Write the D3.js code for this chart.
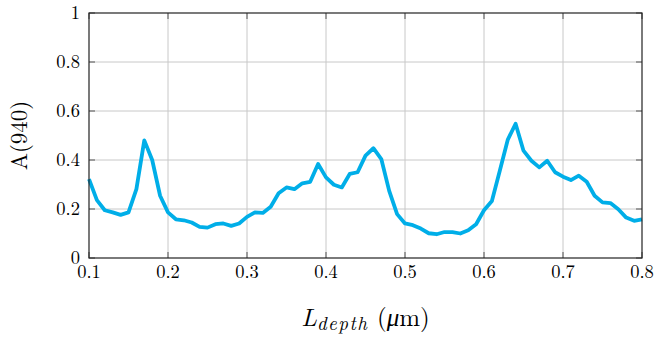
<!DOCTYPE html>
<html>
<head>
<meta charset="utf-8">
<script src="https://cdn.jsdelivr.net/npm/d3@7"></script>
<style>
  html, body { margin: 0; padding: 0; background: #fff; }
  svg { display: block; }
  text { font-family: "Latin Modern Roman", "CMU Serif", "Liberation Serif", "DejaVu Serif", serif; fill: #000; }
</style>
</head>
<body>
<svg id="chart" width="657" height="341"></svg>
<script>
// Depth values (µm), sampled every 0.01 from 0.10 to 0.80
const depth = [
  0.10, 0.11, 0.12, 0.13, 0.14, 0.15, 0.16, 0.17, 0.18, 0.19,
  0.20, 0.21, 0.22, 0.23, 0.24, 0.25, 0.26, 0.27, 0.28, 0.29,
  0.30, 0.31, 0.32, 0.33, 0.34, 0.35, 0.36, 0.37, 0.38, 0.39,
  0.40, 0.41, 0.42, 0.43, 0.44, 0.45, 0.46, 0.47, 0.48, 0.49,
  0.50, 0.51, 0.52, 0.53, 0.54, 0.55, 0.56, 0.57, 0.58, 0.59,
  0.60, 0.61, 0.62, 0.63, 0.64, 0.65, 0.66, 0.67, 0.68, 0.69,
  0.70, 0.71, 0.72, 0.73, 0.74, 0.75, 0.76, 0.77, 0.78, 0.79,
  0.80
];
// Absorption at 940 nm
const absorption = [
  0.322, 0.236, 0.195, 0.186, 0.176, 0.186, 0.281, 0.480, 0.400, 0.254,
  0.186, 0.158, 0.154, 0.145, 0.127, 0.124, 0.138, 0.141, 0.131, 0.141,
  0.168, 0.186, 0.184, 0.209, 0.264, 0.288, 0.281, 0.305, 0.311, 0.384,
  0.329, 0.299, 0.288, 0.343, 0.350, 0.418, 0.448, 0.404, 0.274, 0.179,
  0.141, 0.134, 0.120, 0.101, 0.097, 0.106, 0.106, 0.100, 0.113, 0.138,
  0.195, 0.233, 0.356, 0.482, 0.548, 0.438, 0.397, 0.370, 0.397, 0.350,
  0.332, 0.318, 0.336, 0.311, 0.254, 0.227, 0.224, 0.199, 0.165, 0.152,
  0.158
];
const xTicks = [0.1, 0.2, 0.3, 0.4, 0.5, 0.6, 0.7, 0.8];
const yTicks = [0, 0.2, 0.4, 0.6, 0.8, 1];

const svg = d3.select("#chart");
const plot = { left: 89, right: 642, top: 13, bottom: 258 };

const x = d3.scaleLinear().domain([0.1, 0.8]).range([plot.left, plot.right]);
const y = d3.scaleLinear().domain([0, 1]).range([plot.bottom, plot.top]);

// grid
const grid = svg.append("g").attr("stroke", "#c8c8c8").attr("stroke-width", 1);
grid.selectAll("line.gx").data(xTicks.slice(1, -1)).join("line").attr("class", "gx")
  .attr("x1", d => x(d)).attr("x2", d => x(d)).attr("y1", plot.top).attr("y2", plot.bottom);
grid.selectAll("line.gy").data(yTicks.slice(1, -1)).join("line").attr("class", "gy")
  .attr("y1", d => y(d)).attr("y2", d => y(d)).attr("x1", plot.left).attr("x2", plot.right);

// inward ticks on all four sides
const tickLen = 6;
const ticks = svg.append("g").attr("stroke", "#555").attr("stroke-width", 1);
xTicks.forEach(t => {
  ticks.append("line").attr("x1", x(t)).attr("x2", x(t)).attr("y1", plot.bottom).attr("y2", plot.bottom - tickLen);
  ticks.append("line").attr("x1", x(t)).attr("x2", x(t)).attr("y1", plot.top).attr("y2", plot.top + tickLen);
});
yTicks.forEach(t => {
  ticks.append("line").attr("y1", y(t)).attr("y2", y(t)).attr("x1", plot.left).attr("x2", plot.left + tickLen);
  ticks.append("line").attr("y1", y(t)).attr("y2", y(t)).attr("x1", plot.right).attr("x2", plot.right - tickLen);
});

// data line
const line = d3.line().x((d, i) => x(depth[i])).y(d => y(d));
svg.append("path")
  .datum(absorption)
  .attr("d", line)
  .attr("fill", "none")
  .attr("stroke", "#00aee8")
  .attr("stroke-width", 3.8)
  .attr("stroke-linejoin", "round");

// frame
svg.append("rect")
  .attr("x", plot.left).attr("y", plot.top)
  .attr("width", plot.right - plot.left).attr("height", plot.bottom - plot.top)
  .attr("fill", "none").attr("stroke", "#222").attr("stroke-width", 1.2);

// tick labels
const fmt = d => d === 0 || d === 1 ? String(d) : d.toFixed(1);
svg.append("g").selectAll("text").data(xTicks).join("text")
  .attr("x", d => x(d)).attr("y", plot.bottom + 20)
  .attr("text-anchor", "middle").attr("font-size", 18.5)
  .text(fmt);
svg.append("g").selectAll("text").data(yTicks).join("text")
  .attr("x", plot.left - 9).attr("y", d => y(d) + 6)
  .attr("text-anchor", "end").attr("font-size", 18.5)
  .text(fmt);

// axis titles
const xl = svg.append("text")
  .attr("x", (plot.left + plot.right) / 2).attr("y", 326)
  .attr("text-anchor", "middle").attr("font-size", 25);
xl.append("tspan").attr("font-style", "italic").text("L");
xl.append("tspan").attr("font-style", "italic").attr("font-size", 19)
  .attr("letter-spacing", 1.5).attr("dy", 4).text("depth");
xl.append("tspan").attr("dy", -4).text(" (");
xl.append("tspan").attr("font-style", "italic").text("μ");
xl.append("tspan").text("m)");

svg.append("text")
  .attr("transform", `translate(27, ${(plot.top + plot.bottom) / 2}) rotate(-90)`)
  .attr("text-anchor", "middle").attr("font-size", 23)
  .text("A(940)");
</script>
</body>
</html>
